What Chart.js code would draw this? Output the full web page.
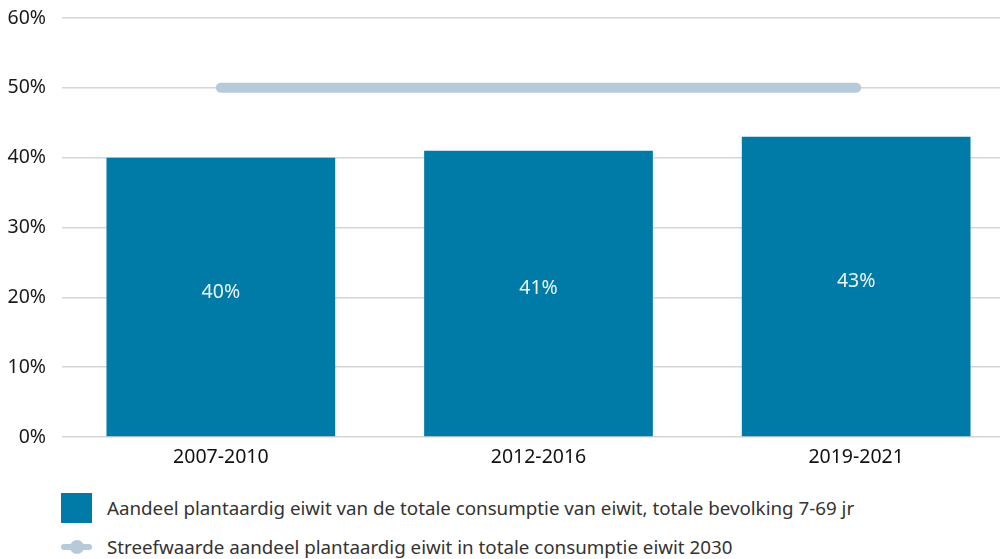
<!DOCTYPE html>
<html>
<head>
<meta charset="utf-8">
<script src="https://cdn.jsdelivr.net/npm/chart.js@4/dist/chart.umd.min.js"></script>
<style>
  html, body { margin: 0; padding: 0; background: #fff; overflow: hidden; width: 1000px; height: 559px; }
  #wrap { position: absolute; left: 0; top: 0; width: 1015px; height: 480px; }
  .legend { position: absolute; left: 61px; font-family: "Noto Sans", sans-serif; font-size: 18.75px; color: #333; }
  .legend .item { position: absolute; left: 0; white-space: nowrap; height: 30px; line-height: 30px; }
  .legend .box { position: absolute; left: 0; top: 0; width: 31px; height: 30px; background: #007BA8; }
  .legend .ln { position: absolute; left: 0; top: 12px; width: 31px; height: 6px; border-radius: 3px; background: #B7CAD9; }
  .legend .dot { position: absolute; left: 9px; top: 8px; width: 14px; height: 14px; border-radius: 50%; background: #B7CAD9; }
  .legend .txt { position: absolute; left: 46px; top: 0; }
</style>
</head>
<body>
<div id="wrap"><canvas id="myChart"></canvas></div>
<div class="legend">
  <div class="item" style="top:493px"><span class="box"></span><span class="txt" id="lab1"></span></div>
  <div class="item" style="top:532px"><span class="ln"></span><span class="dot"></span><span class="txt" id="lab2"></span></div>
</div>
<script>
var periods = ['2007-2010', '2012-2016', '2019-2021'];
var plantShare = [40, 41, 43];
var target2030 = [50, 50, 50];
var yTicks = [0, 10, 20, 30, 40, 50, 60];
var barLabel = 'Aandeel plantaardig eiwit van de totale consumptie van eiwit, totale bevolking 7-69 jr';
var lineLabel = 'Streefwaarde aandeel plantaardig eiwit in totale consumptie eiwit 2030';

document.getElementById('lab1').textContent = barLabel;
document.getElementById('lab2').textContent = lineLabel;

var font = '"Noto Sans", sans-serif';

// values written in the middle of each bar
var barValues = {
	id: 'barValues',
	afterDatasetsDraw: function (chart) {
		var ctx = chart.ctx;
		var meta = chart.getDatasetMeta(1);
		ctx.save();
		ctx.fillStyle = '#eef5f9';
		ctx.font = '19.5px ' + font;
		ctx.textAlign = 'center';
		ctx.textBaseline = 'middle';
		meta.data.forEach(function (bar, i) {
			var mid = (bar.y + bar.base) / 2 - 5;
			ctx.fillText(plantShare[i] + '%', bar.x, mid);
		});
		ctx.restore();
	}
};

var ctx = document.getElementById('myChart');

new Chart(ctx, {
	type: 'bar',
	data: {
		labels: periods,
		datasets: [
			{
				type: 'line',
				label: lineLabel,
				data: target2030,
				borderColor: '#B7CAD9',
				backgroundColor: '#B7CAD9',
				borderWidth: 10,
				borderCapStyle: 'round',
				pointRadius: 0,
				fill: false,
				order: 0
			},
			{
				label: barLabel,
				data: plantShare,
				backgroundColor: '#007BA8',
				barPercentage: 0.72,
				categoryPercentage: 1,
				order: 1
			}
		]
	},
	options: {
		responsive: true,
		maintainAspectRatio: false,
		animation: false,
		layout: { autoPadding: false, padding: { top: 18, left: 0, right: 0, bottom: 0 } },
		plugins: {
			legend: { display: false },
			tooltip: { enabled: false }
		},
		scales: {
			x: {
				grid: { display: false, drawTicks: false },
				border: { display: false },
				ticks: { color: '#111', font: { family: font, size: 19.5 }, padding: 9 },
				afterFit: function (s) { s.height = 43; }
			},
			y: {
				min: 0,
				max: 60,
				afterBuildTicks: function (s) { s.ticks = yTicks.map(function (v) { return { value: v }; }); },
				grid: { color: '#d6d6d6', lineWidth: 1.5, drawTicks: false },
				border: { display: false },
				ticks: {
					color: '#1a1a1a',
					font: { family: font, size: 19.5 },
					padding: 16,
					callback: function (v) { return v + '%'; }
				},
				afterFit: function (s) {
					s.width = 62;
					s.paddingTop = 0;
					s.paddingBottom = 0;
				}
			}
		}
	},
	plugins: [barValues]
});
</script>
</body>
</html>
